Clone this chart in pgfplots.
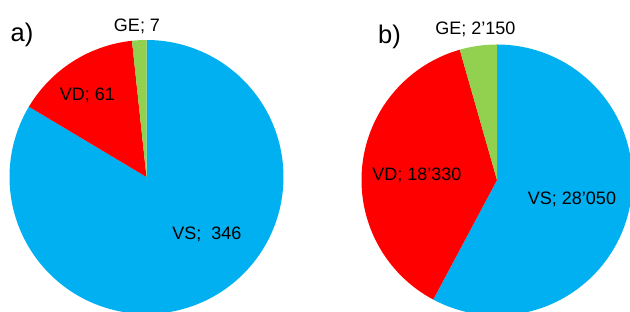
\documentclass[border=0pt]{standalone}
\usepackage{pgfplots}
\pgfplotsset{compat=1.18}
\usepackage{fontspec}
\setmainfont{Liberation Sans}
\definecolor{cblue}{HTML}{00B0F0}
\definecolor{cred}{HTML}{FF0000}
\definecolor{cgreen}{HTML}{92D050}
% data
\def\aVS{346}\def\aVD{61}\def\aGE{7}
\def\bVS{28050}\def\bVD{18330}\def\bGE{2150}
\edef\aA{\fpeval{90-360*\aVS/(\aVS+\aVD+\aGE)}}
\edef\aB{\fpeval{\aA-360*\aVD/(\aVS+\aVD+\aGE)}}
\edef\bA{\fpeval{90-360*\bVS/(\bVS+\bVD+\bGE)}}
\edef\bB{\fpeval{\bA-360*\bVD/(\bVS+\bVD+\bGE)}}
\newcommand\lblfont{\fontsize{18}{21}\selectfont}
\newcommand\bigfont{\fontsize{25.5}{30}\selectfont}
\begin{document}
\begin{tikzpicture}[x=1pt,y=1pt]
\useasboundingbox (0,0) rectangle (630,312);
\clip (0,0) rectangle (630,312);
\begin{axis}[at={(146.5pt,135pt)}, anchor=origin, width=274pt, height=274pt,
  scale only axis, xmin=-1, xmax=1, ymin=-1, ymax=1, hide axis, clip=false]
\addplot[draw=none, fill=cblue, domain=\aA:90, samples=200] ({cos(x)},{sin(x)}) -- (axis cs:0,0) -- cycle;
\addplot[draw=none, fill=cred, domain=\aB:\aA, samples=60] ({cos(x)},{sin(x)}) -- (axis cs:0,0) -- cycle;
\addplot[draw=none, fill=cgreen, domain=-270:\aB, samples=20] ({cos(x)},{sin(x)}) -- (axis cs:0,0) -- cycle;
\end{axis}
\begin{axis}[at={(497pt,132pt)}, anchor=origin, width=271pt, height=271pt,
  scale only axis, xmin=-1, xmax=1, ymin=-1, ymax=1, hide axis, clip=false]
\addplot[draw=none, fill=cblue, domain=\bA:90, samples=150] ({cos(x)},{sin(x)}) -- (axis cs:0,0) -- cycle;
\addplot[draw=none, fill=cred, domain=\bB:\bA, samples=120] ({cos(x)},{sin(x)}) -- (axis cs:0,0) -- cycle;
\addplot[draw=none, fill=cgreen, domain=-270:\bB, samples=30] ({cos(x)},{sin(x)}) -- (axis cs:0,0) -- cycle;
\end{axis}
\node[anchor=base, inner sep=0pt, font=\bigfont] at (22,270.3) {a)};
\node[anchor=base, inner sep=0pt, font=\bigfont] at (389.5,268.7) {b)};
\node[anchor=base, inner sep=0pt, font=\lblfont] at (137,280.3) {GE; 7};
\node[anchor=base, inner sep=0pt, font=\lblfont] at (87.5,211) {VD; 61};
\node[anchor=base, inner sep=0pt, font=\lblfont] at (207,72) {VS;\ \ 346};
\node[anchor=base, inner sep=0pt, font=\lblfont] at (475.5,277) {GE; 2’150};
\node[anchor=base, inner sep=0pt, font=\lblfont] at (417,131.3) {VD; 18’330};
\node[anchor=base, inner sep=0pt, font=\lblfont] at (572,107) {VS; 28’050};
\end{tikzpicture}
\end{document}
